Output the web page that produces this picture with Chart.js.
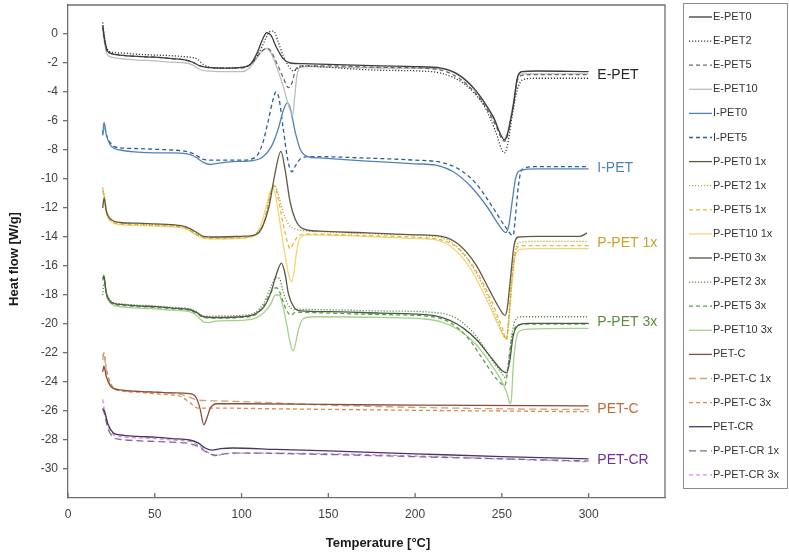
<!DOCTYPE html>
<html>
<head>
<meta charset="utf-8">
<script src="https://cdn.jsdelivr.net/npm/chart.js@4.4.1/dist/chart.umd.min.js"></script>
<style>
  html, body { margin: 0; background: #fff; }
</style>
</head>
<body>
<canvas id="dscChart" width="789" height="556"></canvas>
<script>
// DSC heating curves, [temperature °C, heat flow W/g]
const ePet0 = [[20,0.6],[21,-0.3],[22.5,-1.1],[25,-1.35],[30,-1.45],[40,-1.55],[50,-1.6],[60,-1.7],[68,-1.8],[72,-1.95],[76,-2.2],[80,-2.3],[90,-2.35],[100,-2.3],[105,-2.1],[109,-1.3],[112,-0.4],[114.5,0.1],[117,-0.1],[120,-0.9],[124,-1.7],[128,-2.0],[135,-2.05],[150,-2.1],[180,-2.2],[200,-2.25],[215,-2.35],[225,-2.8],[235,-3.9],[245,-5.7],[251.5,-7.3],[253,-7.0],[256.5,-5.0],[259,-3.0],[261.5,-2.6],[270,-2.55],[300,-2.6]];
const ePet2 = [[20,0.8],[21,-0.2],[22.5,-1.0],[25,-1.25],[30,-1.3],[40,-1.4],[50,-1.45],[60,-1.5],[70,-1.6],[74,-1.7],[78,-2.1],[82,-2.3],[90,-2.35],[100,-2.3],[106,-2.0],[110,-1.3],[114,-0.3],[116,0.15],[118.5,0.2],[121,-0.5],[124,-1.5],[127,-2.2],[130,-2.55],[133,-2.3],[137,-2.2],[150,-2.3],[180,-2.5],[210,-2.6],[220,-2.9],[230,-3.6],[240,-5.0],[246,-6.6],[251.5,-8.2],[253,-7.8],[256,-5.6],[259,-3.8],[262,-3.15],[270,-3.05],[300,-3.05]];
const ePet5 = [[20,0.5],[21,-0.4],[22.5,-1.2],[25,-1.35],[30,-1.45],[40,-1.55],[50,-1.6],[60,-1.7],[68,-1.8],[72,-1.95],[76,-2.2],[80,-2.3],[90,-2.35],[100,-2.35],[106,-2.0],[110,-1.4],[114.5,-1.0],[117,-1.2],[121,-2.2],[124,-3.0],[127,-3.7],[129,-3.4],[131,-2.5],[134,-2.2],[150,-2.2],[180,-2.3],[210,-2.4],[220,-2.7],[230,-3.5],[240,-4.9],[246,-6.2],[251.5,-7.4],[253,-7.1],[256.5,-5.0],[259,-3.2],[262,-2.85],[270,-2.8],[300,-2.8]];
const ePet10 = [[20,0.3],[21,-0.6],[22.5,-1.4],[25,-1.6],[30,-1.7],[40,-1.8],[50,-1.85],[60,-1.95],[68,-2.0],[72,-2.15],[76,-2.45],[80,-2.55],[90,-2.6],[100,-2.6],[104,-2.4],[108,-1.8],[112,-1.15],[114.5,-1.0],[117,-1.3],[120,-2.2],[124,-3.6],[127,-4.9],[129.5,-5.6],[130.5,-4.5],[132,-2.8],[134,-2.3],[140,-2.25],[160,-2.3],[190,-2.35],[215,-2.4],[225,-2.85],[235,-3.95],[245,-5.8],[251.5,-7.2],[253,-6.9],[256.5,-4.8],[259,-3.0],[261.5,-2.75],[270,-2.75],[300,-2.75]];
const iPet0 = [[20,-7.0],[20.8,-6.1],[22,-6.9],[25,-7.75],[30,-8.0],[40,-8.15],[50,-8.2],[60,-8.2],[68,-8.25],[73,-8.45],[78,-8.85],[82,-9.0],[87,-8.9],[95,-8.8],[105,-8.75],[112,-8.5],[117,-7.8],[121,-6.6],[124,-5.3],[126.3,-4.75],[128,-5.1],[131,-6.8],[134,-8.0],[138,-8.45],[145,-8.55],[170,-8.75],[200,-8.95],[212,-9.05],[222,-9.5],[232,-10.5],[242,-12.0],[249,-13.3],[252.3,-13.7],[254,-13.2],[256,-11.5],[258,-9.9],[261,-9.4],[270,-9.3],[300,-9.3]];
const iPet5 = [[20,-6.9],[20.8,-6.2],[22,-6.9],[25,-7.6],[30,-7.85],[40,-7.9],[50,-7.95],[60,-8.0],[68,-8.1],[73,-8.3],[78,-8.65],[85,-8.7],[100,-8.7],[108,-8.5],[112,-7.6],[115,-6.2],[118,-4.6],[119.8,-4.0],[121.5,-4.4],[124,-6.5],[126.5,-8.6],[129,-9.5],[131,-9.1],[134,-8.6],[140,-8.45],[170,-8.55],[200,-8.7],[215,-8.85],[225,-9.3],[235,-10.3],[245,-12.0],[252,-13.3],[256.5,-13.9],[257.5,-13.0],[259.5,-10.5],[261.5,-9.35],[270,-9.15],[300,-9.15]];
const pPet0x1 = [[20,-12.0],[20.8,-11.3],[22,-12.2],[25,-12.8],[30,-13.0],[40,-13.05],[50,-13.1],[60,-13.15],[68,-13.3],[73,-13.6],[78,-13.95],[85,-14.0],[100,-13.95],[108,-13.85],[112,-13.3],[116,-11.8],[119,-9.8],[122.7,-8.1],[125,-9.3],[128,-11.6],[131,-12.8],[135,-13.4],[145,-13.6],[170,-13.7],[200,-13.85],[215,-13.95],[225,-14.5],[235,-15.9],[243,-17.7],[249,-19.0],[251.7,-19.4],[253,-19.0],[255,-16.8],[257,-14.6],[259.5,-14.0],[270,-13.95],[295,-13.95],[298,-13.8],[299,-13.7]];
const pPet2x1 = [[20,-10.6],[21,-11.2],[22.5,-12.3],[25,-12.8],[30,-13.0],[40,-13.1],[50,-13.15],[60,-13.2],[68,-13.35],[73,-13.7],[78,-14.0],[85,-14.05],[100,-14.0],[108,-13.8],[112,-13.2],[115,-12.0],[117,-10.9],[119,-10.4],[121,-11.0],[124,-12.3],[127,-13.1],[130,-13.4],[135,-13.55],[150,-13.65],[180,-13.8],[210,-13.95],[220,-14.3],[230,-15.5],[240,-17.6],[247,-19.6],[252.8,-21.0],[254,-19.5],[256,-16.5],[258,-14.8],[261,-14.35],[270,-14.3],[300,-14.3]];
const pPet5x1 = [[20,-10.8],[21,-11.4],[22.5,-12.4],[25,-12.9],[30,-13.1],[40,-13.15],[50,-13.2],[60,-13.25],[68,-13.4],[73,-13.75],[78,-14.05],[85,-14.1],[100,-14.05],[108,-13.85],[112,-13.3],[115,-12.0],[117,-10.9],[119,-10.5],[121,-11.3],[124,-13.1],[126.5,-14.4],[128,-14.8],[130,-14.4],[133,-13.9],[140,-13.8],[170,-13.9],[205,-14.05],[215,-14.2],[225,-14.8],[235,-16.3],[244,-18.4],[250,-20.2],[252.8,-21.1],[254,-19.6],[256,-16.6],[258,-15.0],[261,-14.6],[270,-14.6],[300,-14.6]];
const pPet10x1 = [[20,-10.7],[21,-11.3],[22.5,-12.5],[25,-12.95],[30,-13.15],[40,-13.2],[50,-13.25],[60,-13.3],[68,-13.45],[73,-13.8],[78,-14.1],[85,-14.15],[100,-14.1],[107,-13.9],[111,-13.2],[114,-12.0],[116.5,-10.9],[118,-10.6],[120,-11.4],[122.5,-13.3],[125,-15.2],[127,-16.5],[128.8,-17.1],[130,-16.6],[131.5,-15.2],[133.5,-14.1],[138,-13.85],[160,-13.9],[200,-14.1],[212,-14.2],[222,-14.8],[232,-16.2],[242,-18.5],[248,-20.1],[252.5,-21.0],[254,-19.8],[256,-17.0],[258,-15.2],[261,-14.85],[270,-14.8],[300,-14.8]];
const pPet0x3 = [[20,-16.9],[20.7,-16.7],[22,-17.8],[25,-18.5],[30,-18.65],[40,-18.75],[50,-18.8],[60,-18.9],[70,-19.0],[74,-19.2],[78,-19.5],[85,-19.55],[100,-19.5],[108,-19.3],[113,-18.8],[117,-17.8],[120,-16.6],[123,-15.8],[125,-16.5],[127,-17.9],[130,-18.8],[134,-19.1],[150,-19.15],[180,-19.25],[210,-19.4],[220,-19.75],[228,-20.3],[235.6,-21.1],[245,-22.5],[250,-23.2],[252.8,-23.35],[254.5,-22.6],[256.4,-20.9],[259.3,-20.1],[265,-19.95],[300,-19.95]];
const pPet2x3 = [[20,-18.0],[20.7,-17.2],[22,-17.8],[25,-18.45],[30,-18.6],[40,-18.7],[50,-18.75],[60,-18.85],[70,-18.95],[74,-19.15],[78,-19.45],[85,-19.45],[100,-19.4],[108,-19.2],[113,-18.5],[117,-17.4],[120,-16.8],[122,-16.9],[124,-17.8],[127,-18.7],[131,-19.0],[140,-19.0],[180,-19.1],[215,-19.25],[225,-19.7],[235,-20.8],[245,-22.6],[250,-23.4],[252,-23.7],[254,-22.5],[256,-20.5],[258,-19.7],[261,-19.5],[270,-19.5],[300,-19.5]];
const pPet5x3 = [[20,-17.0],[20.7,-16.8],[22,-17.9],[25,-18.55],[30,-18.7],[40,-18.8],[50,-18.85],[60,-18.95],[70,-19.05],[74,-19.25],[78,-19.55],[85,-19.6],[100,-19.55],[108,-19.35],[113,-18.7],[117,-17.8],[120,-17.5],[122,-17.8],[125,-18.8],[128.5,-19.4],[131,-19.2],[135,-19.2],[150,-19.25],[180,-19.35],[210,-19.5],[220,-19.9],[230,-20.9],[240,-22.6],[247,-23.8],[251.7,-24.25],[253,-23.5],[255,-21.5],[257,-20.4],[260,-20.05],[270,-20.0],[300,-20.0]];
const pPet10x3 = [[20,-16.8],[20.7,-16.6],[22,-17.9],[25,-18.6],[30,-18.8],[40,-18.9],[50,-18.95],[60,-19.05],[70,-19.15],[74,-19.4],[78,-19.85],[81,-19.9],[85,-19.8],[100,-19.75],[108,-19.6],[113,-19.2],[117,-18.6],[119.5,-18.0],[121.7,-18.0],[123.5,-18.6],[126,-20.0],[128,-21.3],[129.8,-21.85],[131,-21.4],[133,-20.3],[136,-19.6],[145,-19.5],[180,-19.55],[205,-19.65],[215,-19.85],[225,-20.4],[235,-21.4],[245,-23.0],[251,-24.2],[253.5,-25.0],[254.6,-25.5],[255.5,-25.2],[256.5,-23.0],[258,-21.2],[260,-20.5],[265,-20.35],[300,-20.3]];
const petC = [[20,-23.3],[20.7,-22.9],[22,-23.6],[25,-24.35],[30,-24.55],[40,-24.65],[50,-24.7],[60,-24.75],[70,-24.8],[74,-25.1],[76,-25.8],[78.3,-26.95],[80,-26.5],[82,-25.8],[86,-25.5],[100,-25.5],[150,-25.55],[200,-25.6],[300,-25.65]];
const pPetCx1 = [[20,-22.5],[20.7,-22.0],[22,-23.2],[25,-24.3],[30,-24.55],[40,-24.65],[50,-24.7],[60,-24.75],[65,-24.85],[70,-25.05],[75,-25.25],[85,-25.3],[100,-25.35],[130,-25.5],[150,-25.6],[200,-25.75],[250,-25.85],[300,-25.9]];
const pPetCx3 = [[20,-22.2],[20.7,-22.0],[22,-23.0],[25,-24.2],[30,-24.6],[40,-24.7],[50,-24.8],[60,-24.9],[65,-25.0],[70,-25.4],[75,-25.8],[85,-25.8],[120,-25.85],[200,-25.95],[300,-26.05]];
const petCR = [[20,-25.9],[21,-26.0],[23,-26.9],[26,-27.5],[30,-27.65],[40,-27.75],[50,-27.8],[60,-27.9],[70,-28.0],[75,-28.2],[79,-28.55],[83,-28.7],[88,-28.6],[95,-28.55],[120,-28.65],[150,-28.75],[200,-28.95],[250,-29.15],[300,-29.3]];
const pPetCRx1 = [[20,-25.8],[21,-26.2],[23,-27.2],[26,-27.8],[30,-27.95],[40,-28.05],[50,-28.1],[60,-28.15],[70,-28.25],[75,-28.45],[80,-28.85],[85,-29.05],[90,-28.95],[100,-28.9],[150,-29.0],[200,-29.15],[250,-29.3],[300,-29.45]];
const pPetCRx3 = [[20,-25.2],[21,-26.0],[23,-27.0],[26,-27.6],[30,-27.75],[40,-27.85],[50,-27.9],[60,-28.0],[70,-28.1],[75,-28.35],[80,-28.8],[85,-29.1],[90,-28.95],[100,-28.9],[150,-28.95],[200,-29.1],[250,-29.3],[300,-29.5]];

const seriesNames = ["E-PET0","E-PET2","E-PET5","E-PET10","I-PET0","I-PET5","P-PET0 1x","P-PET2 1x","P-PET5 1x","P-PET10 1x","P-PET0 3x","P-PET2 3x","P-PET5 3x","P-PET10 3x","PET-C","P-PET-C 1x","P-PET-C 3x","PET-CR","P-PET-CR 1x","P-PET-CR 3x"];
const seriesData = [ePet0, ePet2, ePet5, ePet10, iPet0, iPet5, pPet0x1, pPet2x1, pPet5x1, pPet10x1, pPet0x3, pPet2x3, pPet5x3, pPet10x3, petC, pPetCx1, pPetCx3, petCR, pPetCRx1, pPetCRx3];

// group captions at the right end of the curves: [T, heat flow]
const groupNames = ["E-PET", "I-PET", "P-PET 1x", "P-PET 3x", "PET-C", "PET-CR"];
const groupAt = [[305, -2.83], [305, -9.26], [305, -14.44], [305, -19.9], [305, -25.9], [305, -29.37]];

const xTicks = [0, 50, 100, 150, 200, 250, 300];
const yTicks = [0, -2, -4, -6, -8, -10, -12, -14, -16, -18, -20, -22, -24, -26, -28, -30];

// line styles
const DOT = [1.2, 1.8], DASH = [4, 3], LONG = [7, 4];
const styles = [
  { c: "#3c3c3c", d: [] }, { c: "#3a3a3a", d: DOT }, { c: "#6a6a6a", d: DASH }, { c: "#bdbdbd", d: [] },
  { c: "#4f81bd", d: [] }, { c: "#2f5d8c", d: DASH },
  { c: "#5e5940", d: [] }, { c: "#bfa23a", d: DOT }, { c: "#e2b93b", d: DASH }, { c: "#f3d37a", d: [] },
  { c: "#4b5a45", d: [] }, { c: "#5f8a45", d: DOT }, { c: "#5aa345", d: DASH }, { c: "#a3d08c", d: [] },
  { c: "#8a4a3c", d: [] }, { c: "#c9a27a", d: LONG }, { c: "#d98a45", d: DASH },
  { c: "#4a3560", d: [] }, { c: "#7d6a94", d: LONG }, { c: "#d58be6", d: DASH }
];
const groupColors = ["#262626", "#4f81bd", "#c9a227", "#5e8c42", "#bf6a3a", "#7030a0"];

const datasets = seriesNames.map((name, i) => ({
  label: name,
  data: seriesData[i].map(p => ({ x: p[0], y: p[1] })),
  borderColor: styles[i].c,
  borderDash: styles[i].d,
  borderWidth: 1.3,
  pointRadius: 0,
  fill: false,
  cubicInterpolationMode: "monotone"
}));

const FONT = "'Liberation Sans', Arial, sans-serif";
const AXIS = "#6e6e6e";

// frame, inner x ticks, captions, legend box and axis titles
const decor = {
  id: "decor",
  afterDraw(chart) {
    const ctx = chart.ctx, a = chart.chartArea;
    const xs = chart.scales.x, ys = chart.scales.y;
    ctx.save();
    ctx.strokeStyle = AXIS;
    ctx.lineWidth = 1.3;
    ctx.beginPath();
    ctx.moveTo(a.left, a.top); ctx.lineTo(a.right, a.top); ctx.lineTo(a.right, a.bottom);
    xTicks.forEach(t => {
      const px = xs.getPixelForValue(t);
      ctx.moveTo(px, a.bottom); ctx.lineTo(px, a.bottom - 5);
    });
    ctx.stroke();

    ctx.font = "14px " + FONT;
    ctx.textBaseline = "middle";
    ctx.textAlign = "left";
    groupNames.forEach((g, i) => {
      ctx.fillStyle = groupColors[i];
      ctx.fillText(g, xs.getPixelForValue(groupAt[i][0]), ys.getPixelForValue(groupAt[i][1]));
    });

    // legend
    ctx.strokeStyle = "#8c8c8c";
    ctx.lineWidth = 1;
    ctx.setLineDash([]);
    ctx.strokeRect(683.5, 3.5, 104, 485);
    ctx.font = "11px " + FONT;
    ctx.fillStyle = "#333";
    chart.data.datasets.forEach((ds, i) => {
      const y = 17 + i * 24.1;
      ctx.strokeStyle = ds.borderColor;
      ctx.lineWidth = 1.3;
      ctx.setLineDash(ds.borderDash);
      ctx.beginPath(); ctx.moveTo(689, y); ctx.lineTo(712, y); ctx.stroke();
      ctx.setLineDash([]);
      ctx.fillText(ds.label, 713, y);
    });

    ctx.font = "bold 13px " + FONT;
    ctx.fillStyle = "#1a1a1a";
    ctx.textAlign = "center";
    ctx.fillText("Temperature [°C]", 378, 543);
    ctx.translate(14, 259);
    ctx.rotate(-Math.PI / 2);
    ctx.fillText("Heat flow [W/g]", 0, 0);
    ctx.restore();
  }
};

new Chart(document.getElementById("dscChart"), {
  type: "line",
  data: { datasets },
  options: {
    responsive: false,
    animation: false,
    layout: { padding: { top: 5, right: 124, left: 0, bottom: 0 } },
    plugins: { legend: { display: false }, tooltip: { enabled: false } },
    scales: {
      x: {
        type: "linear",
        min: 0, max: 344,
        afterFit: s => { s.height = 58; s.paddingLeft = 0; s.paddingRight = 0; },
        afterBuildTicks: s => { s.ticks = xTicks.map(v => ({ value: v })); },
        grid: { display: false, drawTicks: false },
        border: { color: AXIS, width: 1.3 },
        ticks: { padding: 9, color: "#404040", font: { size: 12, family: FONT } }
      },
      y: {
        min: -32, max: 2,
        afterFit: s => { s.width = 68; s.paddingTop = 0; s.paddingBottom = 0; },
        afterBuildTicks: s => { s.ticks = yTicks.map(v => ({ value: v })); },
        grid: { drawOnChartArea: false, drawTicks: true, tickLength: 5, color: AXIS, lineWidth: 1.3 },
        border: { color: AXIS, width: 1.3 },
        ticks: { padding: 5, color: "#404040", font: { size: 12, family: FONT } }
      }
    }
  },
  plugins: [decor]
});
</script>
</body>
</html>
